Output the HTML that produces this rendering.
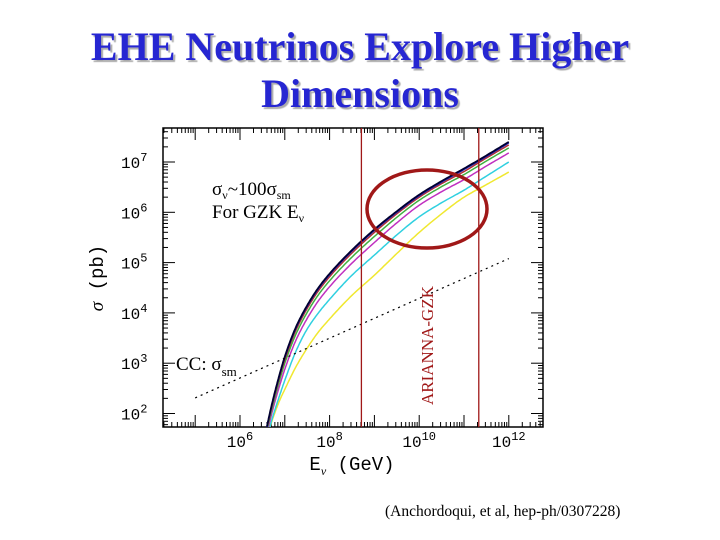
<!DOCTYPE html>
<html><head><meta charset="utf-8"><style>
html,body{margin:0;padding:0;background:#fff;width:720px;height:540px;overflow:hidden}
.t{position:absolute;left:0;width:720px;text-align:center;font-family:"Liberation Serif",serif;font-weight:bold;font-size:40px;color:#2626d2;text-shadow:2px 2px 1px #aaa;line-height:45px}
</style></head><body>
<div class="t" style="top:24px">EHE Neutrinos Explore Higher</div>
<div class="t" style="top:71px">Dimensions</div>
<svg id="c" width="720" height="540" style="position:absolute;left:0;top:0"></svg>
<script>
const xTicks=[6,8,10,12];
const yTicks=[2,3,4,5,6,7];
const logE=[6.6,6.7,6.8,6.9,7,7.25,7.5,7.75,8,8.5,9,9.5,10,10.5,11,11.5,12];
const sBlack=[1.74,2.14,2.5,2.83,3.13,3.72,4.15,4.5,4.78,5.25,5.66,6.02,6.35,6.62,6.87,7.13,7.40];
const sBlue=[1.72,2.12,2.48,2.81,3.11,3.70,4.13,4.48,4.76,5.23,5.64,6.0,6.33,6.60,6.85,7.11,7.38];
const sRed=[1.70,2.09,2.45,2.78,3.07,3.66,4.09,4.44,4.72,5.19,5.6,5.97,6.30,6.57,6.81,7.08,7.34];
const sGreen=[1.66,2.04,2.39,2.71,3.0,3.58,4.01,4.36,4.64,5.11,5.52,5.9,6.24,6.51,6.75,7.02,7.28];
const sMagenta=[1.6,1.97,2.3,2.6,2.88,3.46,3.89,4.24,4.52,4.99,5.40,5.79,6.14,6.41,6.65,6.92,7.18];
const sCyan=[1.5,1.84,2.13,2.4,2.66,3.24,3.68,4.0,4.27,4.75,5.15,5.55,5.91,6.19,6.44,6.72,7.0];
const yellowE=[6.67,6.8,6.9,7,7.25,7.5,7.75,8,8.5,9,9.5,10,10.5,11,11.5,12];
const sYellow=[1.74,2.07,2.29,2.48,2.93,3.3,3.62,3.88,4.35,4.75,5.18,5.6,5.97,6.3,6.55,6.8];
const ccE=[5,12];
const ccS=[2.31,5.08];
const vLines=[8.71,11.33];
const NS='http://www.w3.org/2000/svg';
const svg=document.getElementById('c');
const X=v=>240+(v-6)*44.8;
const Y=v=>162-(v-7)*50.3;
const L=163,R=543,T=128,B=427;
function el(t,a,p){const e=document.createElementNS(NS,t);for(const k in a)e.setAttribute(k,a[k]);(p||svg).appendChild(e);return e;}
const cp=el('clipPath',{id:'cp'});el('rect',{x:L,y:T,width:R-L,height:B-T},cp);
const frame=el('rect',{x:L,y:T,width:R-L,height:B-T,fill:'none',stroke:'#000','stroke-width':1.5});


for(let d=4;d<13;d++)for(let m=1;m<10;m++){const v=d+Math.log10(m);if(X(v)<L||X(v)>R)continue;const len=m==1?12:5;
el('line',{x1:X(v),x2:X(v),y1:B,y2:B-len,stroke:'#000'});el('line',{x1:X(v),x2:X(v),y1:T,y2:T+len,stroke:'#000'});}
for(let d=1;d<8;d++)for(let m=1;m<10;m++){const v=d+Math.log10(m);if(Y(v)<T||Y(v)>B)continue;const len=m==1?12:5;
el('line',{y1:Y(v),y2:Y(v),x1:L,x2:L+len,stroke:'#000'});el('line',{y1:Y(v),y2:Y(v),x1:R,x2:R-len,stroke:'#000'});}
const tf='"Liberation Mono",monospace';
xTicks.forEach(v=>{const t=el('text',{x:X(v),y:447,'text-anchor':'middle','font-family':tf,'font-size':16});


t.innerHTML='10<tspan dy="-7" font-size="12">'+v+'</tspan>';});
yTicks.forEach(v=>{const t=el('text',{x:121,y:Y(v)+6,'font-family':tf,'font-size':16});


t.innerHTML='10<tspan dy="-7" font-size="12">'+v+'</tspan>';});
const xt=el('text',{x:352,y:470,'text-anchor':'middle','font-family':tf,'font-size':19});


xt.innerHTML='E<tspan dy="5" font-size="12" font-family="Liberation Serif" font-style="italic">ν</tspan><tspan dy="-5"> (GeV)</tspan>';
const yt=el('text',{transform:'translate(103,278) rotate(-90)','text-anchor':'middle','font-family':tf,'font-size':19});


yt.innerHTML='<tspan font-family="Liberation Serif" font-style="italic">σ</tspan> (pb)';
const g=el('g',{'clip-path':'url(#cp)'});
function line(xs,ys,col,w,name,dash){const d=xs.map((v,i)=>(i?'L':'M')+X(v).toFixed(1)+','+Y(ys[i]).toFixed(1)).join('');
const p=el('path',{d:d,fill:'none',stroke:col,'stroke-width':w,'stroke-linejoin':'round'},g);if(dash)p.setAttribute('stroke-dasharray',dash);

}
// monotone cubic Hermite (Fritsch-Carlson) in data coordinates
function smooth(xs,ys,col,w,name){const n=xs.length;const dl=[],m=[];
for(let i=0;i<n-1;i++)dl.push((ys[i+1]-ys[i])/(xs[i+1]-xs[i]));
m[0]=dl[0];m[n-1]=dl[n-2];
for(let i=1;i<n-1;i++){const h0=xs[i]-xs[i-1],h1=xs[i+1]-xs[i];m[i]=dl[i-1]*dl[i]<=0?0:(3*(h0+h1))/((2*h1+h0)/dl[i-1]+(h1+2*h0)/dl[i]);}
const px=[],py=[];
for(let i=0;i<n-1;i++){const h=xs[i+1]-xs[i];for(let k=0;k<12;k++){const t=k/12,t2=t*t,t3=t2*t;
px.push(xs[i]+h*t);py.push((2*t3-3*t2+1)*ys[i]+(t3-2*t2+t)*h*m[i]+(-2*t3+3*t2)*ys[i+1]+(t3-t2)*h*m[i+1]);}}
px.push(xs[n-1]);py.push(ys[n-1]);line(px,py,col,w,name);}
smooth(yellowE,sYellow,'#f0e830',1.5,'series-yellow');
smooth(logE,sCyan,'#30d0e0',1.5,'series-cyan');
smooth(logE,sMagenta,'#c030c0',1.5,'series-magenta');
smooth(logE,sGreen,'#40b040',1.5,'series-green');
smooth(logE,sRed,'#b03030',1.5,'series-red');
smooth(logE,sBlue,'#2020c0',1.5,'series-blue');
smooth(logE,sBlack,'#000030',1.8,'series-black');
line(ccE,ccS,'#000',1.2,'cc-sm-line','2,4');
vLines.forEach(v=>{const l=el('line',{x1:X(v),x2:X(v),y1:T,y2:B,stroke:'#a01818','stroke-width':1.3});

});
const ell=el('ellipse',{cx:427,cy:209,rx:60,ry:39,fill:'none',stroke:'#a01818','stroke-width':3.5});


const sf='"Liberation Serif",serif';
const a1=el('text',{x:212,y:195,'font-family':sf,'font-size':19});


a1.innerHTML='σ<tspan dy="4" font-size="12">ν</tspan><tspan dy="-4">~100σ</tspan><tspan dy="4" font-size="12">sm</tspan>';
const a2=el('text',{x:212,y:218,'font-family':sf,'font-size':19});


a2.innerHTML='For GZK E<tspan dy="4" font-size="12">ν</tspan>';
const a3=el('text',{x:176,y:370,'font-family':sf,'font-size':19});


a3.innerHTML='CC: σ<tspan dy="6" font-size="13">sm</tspan>';
const a4=el('text',{transform:'translate(433,405) rotate(-90)','font-family':sf,'font-size':17,fill:'#a01818'});


a4.textContent='ARIANNA-GZK';
const c=el('text',{x:385,y:516,'font-family':sf,'font-size':15.5});


c.textContent='(Anchordoqui, et al, hep-ph/0307228)';
</script>
</body></html>
